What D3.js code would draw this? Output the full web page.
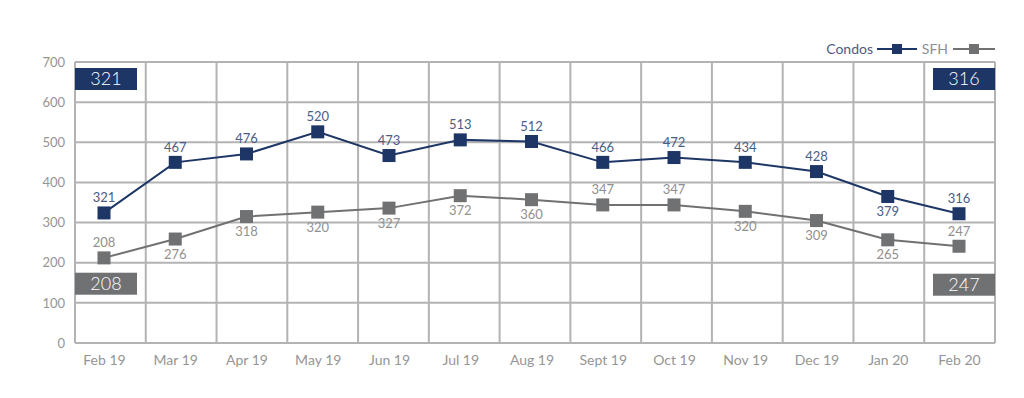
<!DOCTYPE html>
<html>
<head>
<meta charset="utf-8">
<script src="https://cdnjs.cloudflare.com/ajax/libs/d3/7.8.5/d3.min.js"></script>
<style>
  body { margin: 0; background: #fff; }
  text { font-family: Lato, "Open Sans", sans-serif; }
</style>
</head>
<body>
<div id="chart-container"></div>
<script>
// Data

const months = ['Feb 19', 'Mar 19', 'Apr 19', 'May 19', 'Jun 19', 'Jul 19', 'Aug 19',
  'Sept 19', 'Oct 19', 'Nov 19', 'Dec 19', 'Jan 20', 'Feb 20']

// where the markers sit on the chart
const condoValues = [324, 450, 471, 526, 467, 506, 502, 450, 462, 450, 427, 365, 322]
const sfhValues = [212, 259, 315, 326, 336, 367, 357, 344, 344, 328, 305, 257, 241]

// the numbers printed next to them
const condoLabels = [321, 467, 476, 520, 473, 513, 512, 466, 472, 434, 428, 379, 316]
const sfhLabels = [208, 276, 318, 320, 327, 372, 360, 347, 347, 320, 309, 265, 247]

// label above (1) or below (-1) its marker
const condoSide = [1, 1, 1, 1, 1, 1, 1, 1, 1, 1, 1, -1, 1]
const sfhSide = [1, -1, -1, -1, -1, -1, -1, 1, 1, -1, -1, -1, 1]

const yTicks = [0, 100, 200, 300, 400, 500, 600, 700]

const navy = '#1d3666'
const gray = '#707173'
const gridColor = '#b3b3b3'

const width = 1024
const height = 398
const plot = { left: 75, right: 995, top: 62, bottom: 343 }

const svg = d3.select('#chart-container')
  .append('svg')
  .attr('width', width)
  .attr('height', height)

// scales

const y = d3.scaleLinear().domain([0, 700]).range([plot.bottom, plot.top])
const band = d3.scaleBand().domain(months).range([plot.left, plot.right])
const x = d3.scalePoint().domain(months).range([104, 959])

// grid

const grid = svg.append('g')
grid.selectAll('.hline')
  .data(yTicks)
  .enter()
  .append('line')
  .attr('x1', plot.left)
  .attr('x2', plot.right)
  .attr('y1', (d) => y(d))
  .attr('y2', (d) => y(d))
  .attr('stroke', gridColor)
  .attr('stroke-width', 2)

const vLines = months.map((m) => band(m)).concat([plot.right])
grid.selectAll('.vline')
  .data(vLines)
  .enter()
  .append('line')
  .attr('x1', (d) => d)
  .attr('x2', (d) => d)
  .attr('y1', plot.top)
  .attr('y2', plot.bottom)
  .attr('stroke', gridColor)
  .attr('stroke-width', 2)

// axes text

const yAxis = svg.append('g')
  .attr('transform', `translate(${plot.left - 8},0)`)
  .call(d3.axisLeft(y).tickValues(yTicks).tickSize(0).tickPadding(2))
yAxis.select('.domain').remove()
yAxis.selectAll('text')
  .attr('fill', '#959595')
  .attr('font-size', 13)
  .style('font-family', 'Lato, sans-serif')

const xAxis = svg.append('g')
  .attr('transform', `translate(0,${plot.bottom + 10})`)
  .call(d3.axisBottom(x).tickSize(0).tickPadding(2))
xAxis.select('.domain').remove()
xAxis.selectAll('text')
  .attr('fill', '#959595')
  .attr('font-size', 14)
  .style('font-family', 'Lato, sans-serif')

// series

const series = [
  { name: 'SFH', values: sfhValues, labels: sfhLabels, side: sfhSide, color: gray, text: '#909090' },
  { name: 'Condos', values: condoValues, labels: condoLabels, side: condoSide, color: navy, text: '#4a5d84' },
]

const line = d3.line()
  .x((d, i) => x(months[i]))
  .y((d) => y(d))

const sq = 13

series.forEach((s) => {
  const g = svg.append('g')
  g.append('path')
    .datum(s.values)
    .attr('fill', 'none')
    .attr('stroke', s.color)
    .attr('stroke-width', 2)
    .attr('d', line)

  g.selectAll('.marker')
    .data(s.values)
    .enter()
    .append('rect')
    .attr('x', (d, i) => x(months[i]) - sq / 2)
    .attr('y', (d) => y(d) - sq / 2)
    .attr('width', sq)
    .attr('height', sq)
    .attr('fill', s.color)

  g.selectAll('.label')
    .data(s.labels)
    .enter()
    .append('text')
    .attr('x', (d, i) => x(months[i]))
    .attr('y', (d, i) => y(s.values[i]) - s.side[i] * 15)
    .attr('dy', '0.35em')
    .attr('text-anchor', 'middle')
    .attr('font-size', 13)
    .attr('fill', s.text)
    .text((d) => d)
})

// corner boxes with first and last values

const boxW = 62
const boxH = 22
const boxes = [
  { v: condoLabels[0], x: plot.left, y: y(700) + 6, color: navy },
  { v: condoLabels[condoLabels.length - 1], x: plot.right - boxW, y: y(700) + 6, color: navy },
  { v: sfhLabels[0], x: plot.left, y: y(200) + 10, color: gray },
  { v: sfhLabels[sfhLabels.length - 1], x: plot.right - boxW, y: y(200) + 11, color: gray },
]

const bg = svg.selectAll('.box')
  .data(boxes)
  .enter()
  .append('g')
  .attr('transform', (d) => `translate(${d.x},${d.y})`)
bg.append('rect')
  .attr('width', boxW)
  .attr('height', boxH)
  .attr('fill', (d) => d.color)
bg.append('text')
  .attr('x', boxW / 2)
  .attr('y', boxH / 2)
  .attr('dy', '0.36em')
  .attr('text-anchor', 'middle')
  .attr('fill', '#fff')
  .attr('font-size', 18)
  .style('font-weight', 300)
  .text((d) => d.v)

// legend

const legend = [
  { name: 'Condos', color: navy, text: '#4a5d84', textEnd: 873, x1: 877, x2: 917 },
  { name: 'SFH', color: gray, text: '#909090', textEnd: 948, x1: 953, x2: 995 },
]
const ly = 49
const lg = svg.selectAll('.legend')
  .data(legend)
  .enter()
  .append('g')
lg.append('text')
  .attr('x', (d) => d.textEnd)
  .attr('y', ly)
  .attr('dy', '0.35em')
  .attr('text-anchor', 'end')
  .attr('font-size', 14)
  .attr('fill', (d) => d.text)
  .text((d) => d.name)
lg.append('line')
  .attr('x1', (d) => d.x1)
  .attr('x2', (d) => d.x2)
  .attr('y1', ly)
  .attr('y2', ly)
  .attr('stroke', (d) => d.color)
  .attr('stroke-width', 2)
lg.append('rect')
  .attr('x', (d) => (d.x1 + d.x2) / 2 - 5)
  .attr('y', ly - 5)
  .attr('width', 10)
  .attr('height', 10)
  .attr('fill', (d) => d.color)
</script>
</body>
</html>
